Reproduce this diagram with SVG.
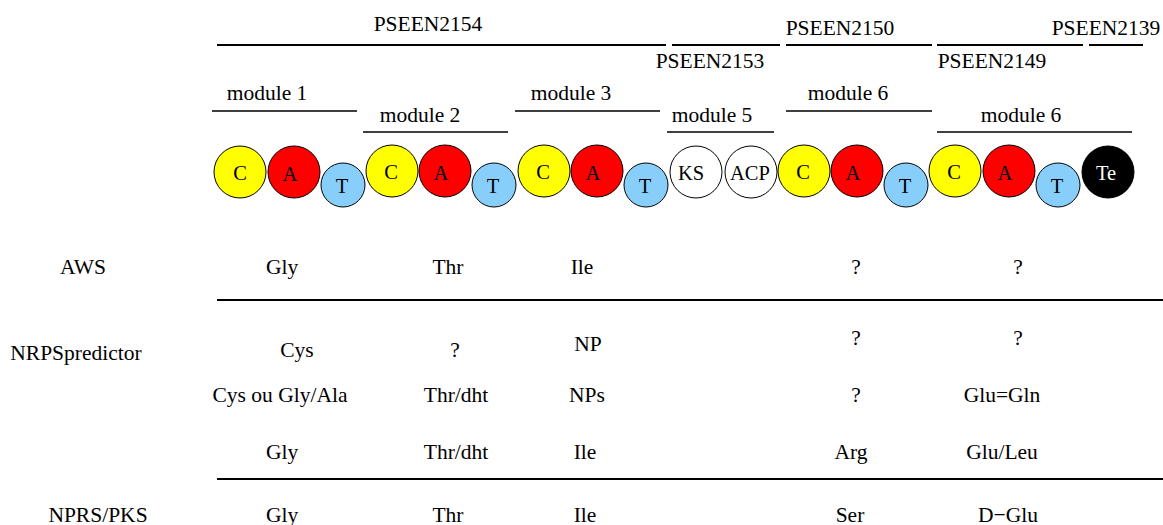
<svg xmlns="http://www.w3.org/2000/svg" width="1163" height="525" viewBox="0 0 1163 525">
<style>
text{font-family:"Liberation Serif","Times New Roman",serif;font-size:21.5px;fill:#000;text-anchor:middle}
.lbl{font-size:20.5px}
.w{fill:#fff}
.gene{stroke:#000;stroke-width:2}
.mod{stroke:#000;stroke-width:1.3}
.rule{stroke:#000;stroke-width:2.2}
.c{fill:#ffff00;stroke:#000;stroke-width:1}
.a{fill:#ff0000;stroke:#000;stroke-width:1}
.t{fill:#87cefa;stroke:#000;stroke-width:1}
.o{fill:#fff;stroke:#000;stroke-width:1}
.te{fill:#000;stroke:#000;stroke-width:1}
</style>
<rect width="1163" height="525" fill="#fff"/>
<g id="genes">
<line class="gene" x1="217" y1="45" x2="666" y2="45"/>
<line class="gene" x1="672" y1="45" x2="780" y2="45"/>
<line class="gene" x1="786" y1="45" x2="932" y2="45"/>
<line class="gene" x1="937" y1="45" x2="1083" y2="45"/>
<line class="gene" x1="1089" y1="45" x2="1143" y2="45"/>
<text x="428" y="31">PSEEN2154</text>
<text x="710" y="68">PSEEN2153</text>
<text x="840" y="35">PSEEN2150</text>
<text x="992" y="68">PSEEN2149</text>
<text x="1106" y="35">PSEEN2139</text>
</g>
<g id="modules">
<line class="mod" x1="212" y1="111" x2="357" y2="111"/>
<text x="267" y="100">module 1</text>
<line class="mod" x1="363" y1="132" x2="508" y2="132"/>
<text x="420" y="122">module 2</text>
<line class="mod" x1="515" y1="111" x2="660" y2="111"/>
<text x="571" y="100">module 3</text>
<line class="mod" x1="667" y1="132" x2="774" y2="132"/>
<text x="712" y="122">module 5</text>
<line class="mod" x1="786" y1="111" x2="932" y2="111"/>
<text x="848" y="100">module 6</text>
<line class="mod" x1="937" y1="132" x2="1132" y2="132"/>
<text x="1021" y="122">module 6</text>
</g>
<g id="domains">
<g id="m1"><circle class="c" cx="240" cy="172" r="26"/><text class="lbl" x="240" y="180">C</text>
<circle class="a" cx="294" cy="172" r="26"/><text class="lbl" x="290" y="181">A</text>
<circle class="t" cx="343" cy="185" r="22"/><text class="lbl" x="342" y="193">T</text></g>
<g id="m2"><circle class="c" cx="392" cy="171" r="26"/><text class="lbl" x="391" y="179">C</text>
<circle class="a" cx="445" cy="171" r="26"/><text class="lbl" x="441" y="180">A</text>
<circle class="t" cx="494" cy="185" r="22"/><text class="lbl" x="493" y="193">T</text></g>
<g id="m3"><circle class="c" cx="544" cy="171" r="26"/><text class="lbl" x="543" y="179">C</text>
<circle class="a" cx="597" cy="171" r="26"/><text class="lbl" x="593" y="180">A</text>
<circle class="t" cx="646" cy="185" r="22"/><text class="lbl" x="645" y="193">T</text></g>
<g id="m5"><circle class="o" cx="696" cy="172" r="26"/><text class="lbl" x="691" y="180">KS</text>
<circle class="o" cx="751" cy="172" r="26"/><text class="lbl" x="750" y="180">ACP</text></g>
<g id="m6a"><circle class="c" cx="804" cy="171" r="26"/><text class="lbl" x="803" y="179">C</text>
<circle class="a" cx="857" cy="171" r="26"/><text class="lbl" x="853" y="180">A</text>
<circle class="t" cx="906" cy="185" r="22"/><text class="lbl" x="905" y="193">T</text></g>
<g id="m6b"><circle class="c" cx="955" cy="171" r="26"/><text class="lbl" x="954" y="179">C</text>
<circle class="a" cx="1009" cy="171" r="26"/><text class="lbl" x="1005" y="180">A</text>
<circle class="t" cx="1058" cy="185" r="22"/><text class="lbl" x="1057" y="193">T</text></g>
<g id="te"><circle class="te" cx="1108" cy="172" r="26"/><text class="lbl w" x="1106" y="180">Te</text></g>
</g>
<g id="table">
<line class="rule" x1="217" y1="300" x2="1163" y2="300"/>
<line class="rule" x1="217" y1="479" x2="1163" y2="479"/>
<text x="83" y="274">AWS</text>
<text x="282" y="274">Gly</text>
<text x="448" y="274">Thr</text>
<text x="582" y="274">Ile</text>
<text x="856" y="274">?</text>
<text x="1018" y="274">?</text>
<text x="76" y="360">NRPSpredictor</text>
<text x="297" y="357">Cys</text>
<text x="455" y="357">?</text>
<text x="588" y="351">NP</text>
<text x="856" y="345">?</text>
<text x="1018" y="345">?</text>
<text x="280" y="402">Cys ou Gly/Ala</text>
<text x="456" y="402">Thr/dht</text>
<text x="587" y="402">NPs</text>
<text x="856" y="402">?</text>
<text x="1002" y="402">Glu=Gln</text>
<text x="282" y="459">Gly</text>
<text x="456" y="459">Thr/dht</text>
<text x="585" y="459">Ile</text>
<text x="851" y="459">Arg</text>
<text x="1002" y="459">Glu/Leu</text>
<text x="98" y="522">NPRS/PKS</text>
<text x="282" y="522">Gly</text>
<text x="448" y="522">Thr</text>
<text x="585" y="522">Ile</text>
<text x="850" y="522">Ser</text>
<text x="1008" y="522">D−Glu</text>
</g>
</svg>
